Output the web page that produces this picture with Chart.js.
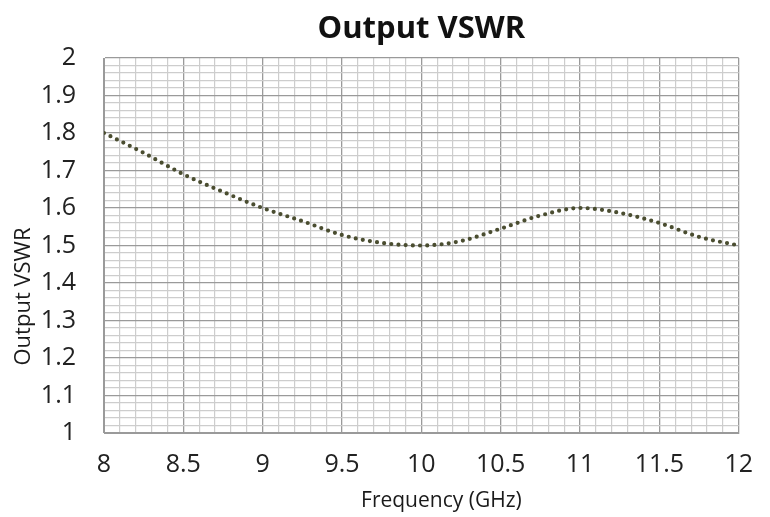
<!DOCTYPE html>
<html>
<head>
<meta charset="utf-8">
<script src="https://cdn.jsdelivr.net/npm/chart.js@4"></script>
<style>
  body { margin: 0; background: #fff; }
  #wrap { width: 770px; height: 517px; }
</style>
</head>
<body>
<div id="wrap"><canvas id="myChart"></canvas></div>
<script>
// frequency (GHz) and VSWR
const freq = [8, 8.25, 8.5, 8.75, 9, 9.25, 9.5, 9.75, 10, 10.25, 10.5, 10.75, 11, 11.25, 11.5, 11.75, 12]
const vswr = [1.80, 1.747, 1.69, 1.643, 1.60, 1.565, 1.528, 1.507, 1.50, 1.512, 1.545, 1.58, 1.60, 1.587, 1.56, 1.523, 1.50]

const titleText = 'Output VSWR'
const xTitle = 'Frequency (GHz)'
const yTitle = 'Output VSWR'

const fontName = "'Open Sans', sans-serif"
Chart.defaults.font.family = fontName

const isMajorY = (v) => Math.round(v * 100) % 10 === 0   // every 0.1
const isMajorX = (v) => Math.round(v * 10) % 5 === 0     // every 0.5
const tickFont = () => ({ family: fontName, size: 25, lineHeight: 1.2 })

// axis titles sit a bit off-centre in the original, so draw them by hand
const axisTitles = {
  id: 'axisTitles',
  afterDraw(chart) {
    const { ctx, chartArea } = chart
    ctx.save()
    ctx.fillStyle = '#1a1a1a'
    ctx.textAlign = 'center'
    ctx.textBaseline = 'middle'
    ctx.font = `21px ${fontName}`
    ctx.fillText(xTitle, (chartArea.left + chartArea.right) / 2 + 20, 501)
    ctx.translate(24, (chartArea.top + chartArea.bottom) / 2 + 51)
    ctx.rotate(-Math.PI / 2)
    ctx.font = `22px ${fontName}`
    ctx.fillText(yTitle, 0, 0)
    ctx.restore()
  }
}

const config = {
  type: 'line',
  data: {
    datasets: [{
      label: 'Output VSWR',
      data: freq.map((f, i) => ({ x: f, y: vswr[i] })),
      borderColor: '#4a4d30',
      borderWidth: 4.2,
      borderDash: [0, 7.2],
      borderCapStyle: 'round',
      cubicInterpolationMode: 'monotone',
      pointRadius: 0,
      fill: false
    }]
  },
  options: {
    responsive: false,
    animation: false,
    layout: { padding: { left: 0, right: 31, top: 0, bottom: 0 } },
    plugins: {
      legend: { display: false },
      tooltip: { enabled: false },
      title: {
        display: true,
        fullSize: false,
        text: titleText,
        color: '#111',
        font: { family: fontName, size: 31, weight: 'bold' },
        padding: { top: 11, bottom: 9.8 }
      }
    },
    scales: {
      x: {
        type: 'linear',
        min: 8,
        max: 12,
        afterFit: (s) => { s.height = 84 },
        ticks: {
          stepSize: 0.1,
          autoSkip: false,
          maxTicksLimit: 100,
          maxRotation: 0,
          padding: 17,
          color: '#222',
          font: tickFont,
          callback: (v) => isMajorX(v) ? String(Math.round(v * 10) / 10) : ''
        },
        grid: {
          drawTicks: false,
          color: (c) => isMajorX(c.tick.value) ? '#9a9a9a' : '#cdcdcd',
          lineWidth: (c) => isMajorX(c.tick.value) ? 1.3 : 1.2
        },
        border: { color: '#9a9a9a' }
      },
      y: {
        min: 1,
        max: 2,
        afterFit: (s) => { s.width = 104 },
        ticks: {
          stepSize: 0.02,
          autoSkip: false,
          maxTicksLimit: 100,
          padding: 28,
          color: '#222',
          font: tickFont,
          callback: (v) => isMajorY(v) ? String(Math.round(v * 10) / 10) : ''
        },
        grid: {
          drawTicks: false,
          color: (c) => isMajorY(c.tick.value) ? '#9a9a9a' : '#cdcdcd',
          lineWidth: (c) => isMajorY(c.tick.value) ? 1.3 : 1.2
        },
        border: { color: '#9a9a9a' }
      }
    }
  },
  plugins: [axisTitles]
}

const myChart = document.getElementById('myChart')
myChart.width = 770
myChart.height = 517
new Chart(myChart, config)
</script>
</body>
</html>
